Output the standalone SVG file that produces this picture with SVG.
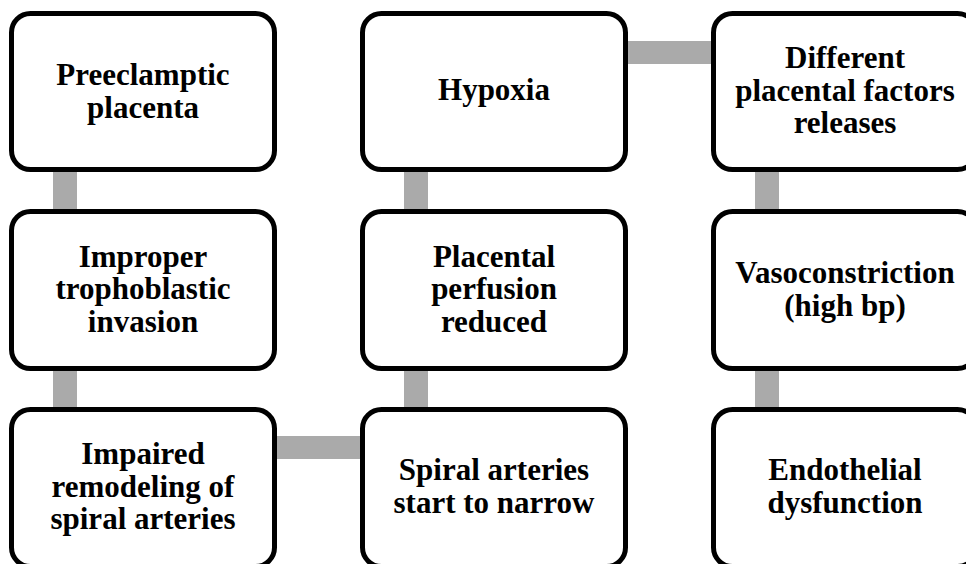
<svg xmlns="http://www.w3.org/2000/svg" width="966" height="564" viewBox="0 0 966 564">
<style>
.box{fill:#fff;stroke:#000;stroke-width:5}
.lbl{font-family:"Liberation Serif","Times New Roman",serif;font-weight:bold;font-size:31px;fill:#000;text-anchor:middle}
.con{fill:#aaaaaa}
</style>
<rect width="966" height="564" fill="#fff"/>
<g id="connectors">
<rect class="con" x="53" y="160" width="24" height="60"/>
<rect class="con" x="53" y="360" width="24" height="60"/>
<rect class="con" x="404" y="160" width="24" height="60"/>
<rect class="con" x="404" y="360" width="24" height="60"/>
<rect class="con" x="755" y="160" width="24" height="60"/>
<rect class="con" x="755" y="360" width="24" height="60"/>
<rect class="con" x="615" y="41" width="110" height="23"/>
<rect class="con" x="265" y="436" width="110" height="23"/>
</g>
<g id="n1"><rect class="box" x="11.5" y="13.5" width="263" height="156" rx="19"/><text class="lbl" x="143" y="85">Preeclamptic</text><text class="lbl" x="143" y="118">placenta</text></g>
<g id="n2"><rect class="box" x="11.5" y="211.5" width="263" height="157" rx="19"/><text class="lbl" x="143" y="266.5">Improper</text><text class="lbl" x="143" y="299">trophoblastic</text><text class="lbl" x="143" y="331.5">invasion</text></g>
<g id="n3"><rect class="box" x="11.5" y="409.5" width="263" height="157" rx="19"/><text class="lbl" x="143" y="464">Impaired</text><text class="lbl" x="143" y="496.5">remodeling of</text><text class="lbl" x="143" y="529">spiral arteries</text></g>
<g id="n4"><rect class="box" x="362.5" y="409.5" width="263" height="157" rx="19"/><text class="lbl" x="494" y="480">Spiral arteries</text><text class="lbl" x="494" y="512.5">start to narrow</text></g>
<g id="n5"><rect class="box" x="362.5" y="211.5" width="263" height="157" rx="19"/><text class="lbl" x="494" y="266.5">Placental</text><text class="lbl" x="494" y="299">perfusion</text><text class="lbl" x="494" y="331.5">reduced</text></g>
<g id="n6"><rect class="box" x="362.5" y="13.5" width="263" height="156" rx="19"/><text class="lbl" x="494" y="100">Hypoxia</text></g>
<g id="n7"><rect class="box" x="713.5" y="13.5" width="263" height="156" rx="19"/><text class="lbl" x="845" y="68">Different</text><text class="lbl" x="845" y="100.5">placental factors</text><text class="lbl" x="845" y="133">releases</text></g>
<g id="n8"><rect class="box" x="713.5" y="211.5" width="263" height="157" rx="19"/><text class="lbl" x="845" y="283">Vasoconstriction</text><text class="lbl" x="845" y="315.5">(high bp)</text></g>
<g id="n9"><rect class="box" x="713.5" y="409.5" width="263" height="157" rx="19"/><text class="lbl" x="845" y="480">Endothelial</text><text class="lbl" x="845" y="512.5">dysfunction</text></g>
</svg>
